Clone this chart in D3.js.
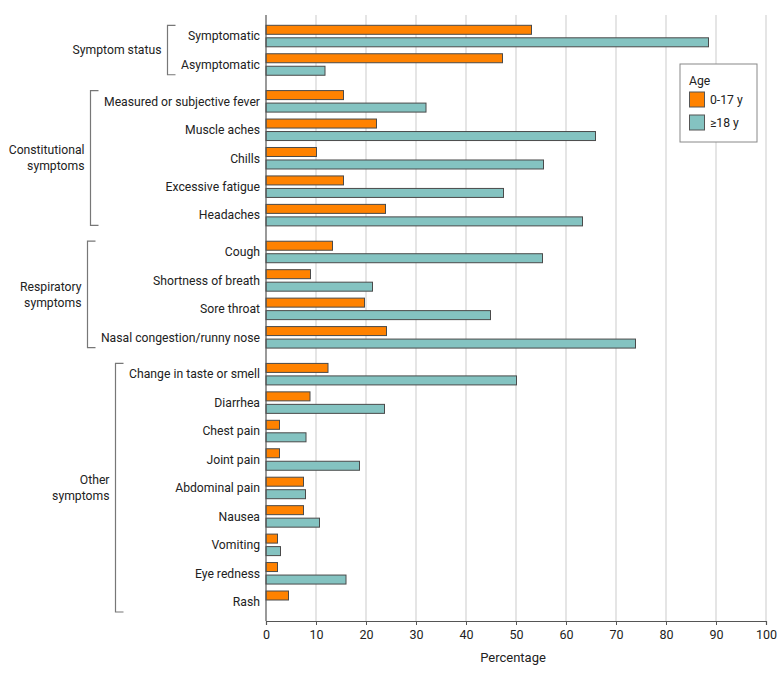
<!DOCTYPE html>
<html>
<head>
<meta charset="utf-8">
<script src="https://cdn.jsdelivr.net/npm/d3@7"></script>
<style>
  body { margin: 0; background: #fff; }
  svg { display: block; }
  text { font-family: Roboto, "Noto Sans", sans-serif; fill: #222; }
</style>
</head>
<body>
<svg id="chart" width="780" height="676"></svg>
<script>
const groups = ["Symptom status", "Constitutional symptoms", "Respiratory symptoms", "Other symptoms"];
const groupLines = [["Symptom status"], ["Constitutional", "symptoms"], ["Respiratory", "symptoms"], ["Other", "symptoms"]];
const categories = [
  "Symptomatic", "Asymptomatic",
  "Measured or subjective fever", "Muscle aches", "Chills", "Excessive fatigue", "Headaches",
  "Cough", "Shortness of breath", "Sore throat", "Nasal congestion/runny nose",
  "Change in taste or smell", "Diarrhea", "Chest pain", "Joint pain", "Abdominal pain",
  "Nausea", "Vomiting", "Eye redness", "Rash"
];
const categoryGroup = [0,0, 1,1,1,1,1, 2,2,2,2, 3,3,3,3,3,3,3,3,3];
const series = ["0-17 y", "≥18 y"];
const child = [53.1, 47.3, 15.5, 22.1, 10.1, 15.5, 23.9, 13.3, 8.9, 19.7, 24.1, 12.4, 8.8, 2.7, 2.7, 7.5, 7.5, 2.3, 2.3, 4.5];
const adult = [88.5, 11.8, 32.0, 65.9, 55.5, 47.5, 63.3, 55.3, 21.3, 44.9, 73.9, 50.1, 23.7, 8.0, 18.7, 7.9, 10.7, 2.9, 16.0, 0];
const xTicks = [0, 10, 20, 30, 40, 50, 60, 70, 80, 90, 100];
const colors = ["#ff8200", "#84c3c1"];

(function () {
const svg = d3.select("#chart");
const mLeft = 266, mRight = 766, mTop = 15, mBottom = 621;
const labelSize = 12.2;
const x = d3.scaleLinear().domain([0, 100]).range([mLeft, mRight]);

const gapFrac = 0.295;
const slot = categories.map((c, i) => i + categoryGroup[i] * gapFrac);
const y = d3.scaleLinear().domain([0, 19 + 3 * gapFrac]).range([25.3, 591]);
const inner = d3.scaleBand().domain(series).range([0, 21.5]).paddingInner(0.28);

svg.append("g").selectAll("line").data(xTicks.slice(1)).join("line")
  .attr("x1", d => x(d)).attr("x2", d => x(d))
  .attr("y1", mTop).attr("y2", mBottom)
  .attr("stroke", "#d4d4d4").attr("stroke-width", 1.2);

const rows = categories.map((c, i) => ({c, i, vals: [child[i], adult[i]]}));
const rowG = svg.append("g").selectAll("g").data(rows).join("g")
  .attr("transform", d => `translate(0,${y(slot[d.i])})`);
rowG.selectAll("rect").data(d => d.vals.map((v, k) => ({v, k})).filter(e => e.v > 0)).join("rect")
  .attr("x", x(0))
  .attr("y", e => inner(series[e.k]))
  .attr("width", e => x(e.v) - x(0))
  .attr("height", inner.bandwidth())
  .attr("fill", e => colors[e.k])
  .attr("stroke", "#4a4a4a").attr("stroke-width", 1);

const catLabels = rowG.append("text")
  .attr("x", mLeft - 6)
  .attr("y", 10.75)
  .attr("dy", "0.35em")
  .attr("text-anchor", "end")
  .attr("font-size", labelSize)
  .text(d => d.c);

svg.append("line").attr("x1", mLeft).attr("x2", mLeft).attr("y1", mTop).attr("y2", mBottom)
  .attr("stroke", "#555").attr("stroke-width", 1.2);

const xAxis = svg.append("g").attr("transform", `translate(0,${mBottom})`)
  .call(d3.axisBottom(x).tickValues(xTicks).tickSize(4).tickPadding(5));
xAxis.select(".domain").attr("stroke", "#555").attr("stroke-width", 1.2);
xAxis.selectAll(".tick line").attr("stroke", "#555");
xAxis.selectAll(".tick text").attr("font-size", 12.5).attr("fill", "#222")
  .attr("font-family", "Roboto, 'Noto Sans', sans-serif");
svg.append("text").attr("x", 513).attr("y", 662)
  .attr("text-anchor", "middle").attr("font-size", 13).text("Percentage");

groups.forEach((g, gi) => {
  const idx = categories.map((c, i) => i).filter(i => categoryGroup[i] === gi);
  let minX = Infinity;
  catLabels.filter(d => categoryGroup[d.i] === gi).each(function () {
    const w = this.getComputedTextLength();
    minX = Math.min(minX, mLeft - 6 - w);
  });
  const bx = Math.round(minX - 14) + 0.5;
  const y0 = y(slot[idx[0]]);
  const y1 = y(slot[idx[idx.length - 1]]) + 21;
  svg.append("path")
    .attr("d", `M${bx + 8},${y0}H${bx}V${y1}H${bx + 8}`)
    .attr("fill", "none").attr("stroke", "#777").attr("stroke-width", 1.2);
  const lines = groupLines[gi];
  const ym = (y0 + y1) / 2;
  const t = svg.append("text").attr("text-anchor", "end").attr("font-size", labelSize);
  lines.forEach((ln, li) => {
    t.append("tspan").attr("x", bx - 6)
      .attr("y", ym + (li - (lines.length - 1) / 2) * 16)
      .attr("dy", "0.35em").text(ln);
  });
});

const lg = svg.append("g").attr("transform", "translate(680,64)");
lg.append("rect").attr("x", 0).attr("y", 0).attr("width", 77).attr("height", 78)
  .attr("fill", "#fff").attr("stroke", "#888").attr("stroke-width", 1);
lg.append("text").attr("x", 9).attr("y", 21).attr("font-size", labelSize).text("Age");
series.forEach((s, k) => {
  lg.append("rect").attr("x", 9.5).attr("y", 28 + k * 23).attr("width", 15).attr("height", 15)
    .attr("fill", colors[k]).attr("stroke", "#555").attr("stroke-width", 1);
  lg.append("text").attr("x", 30).attr("y", 35.5 + k * 23).attr("dy", "0.35em")
    .attr("font-size", labelSize).text(s);
});
})();
</script>
</body>
</html>
